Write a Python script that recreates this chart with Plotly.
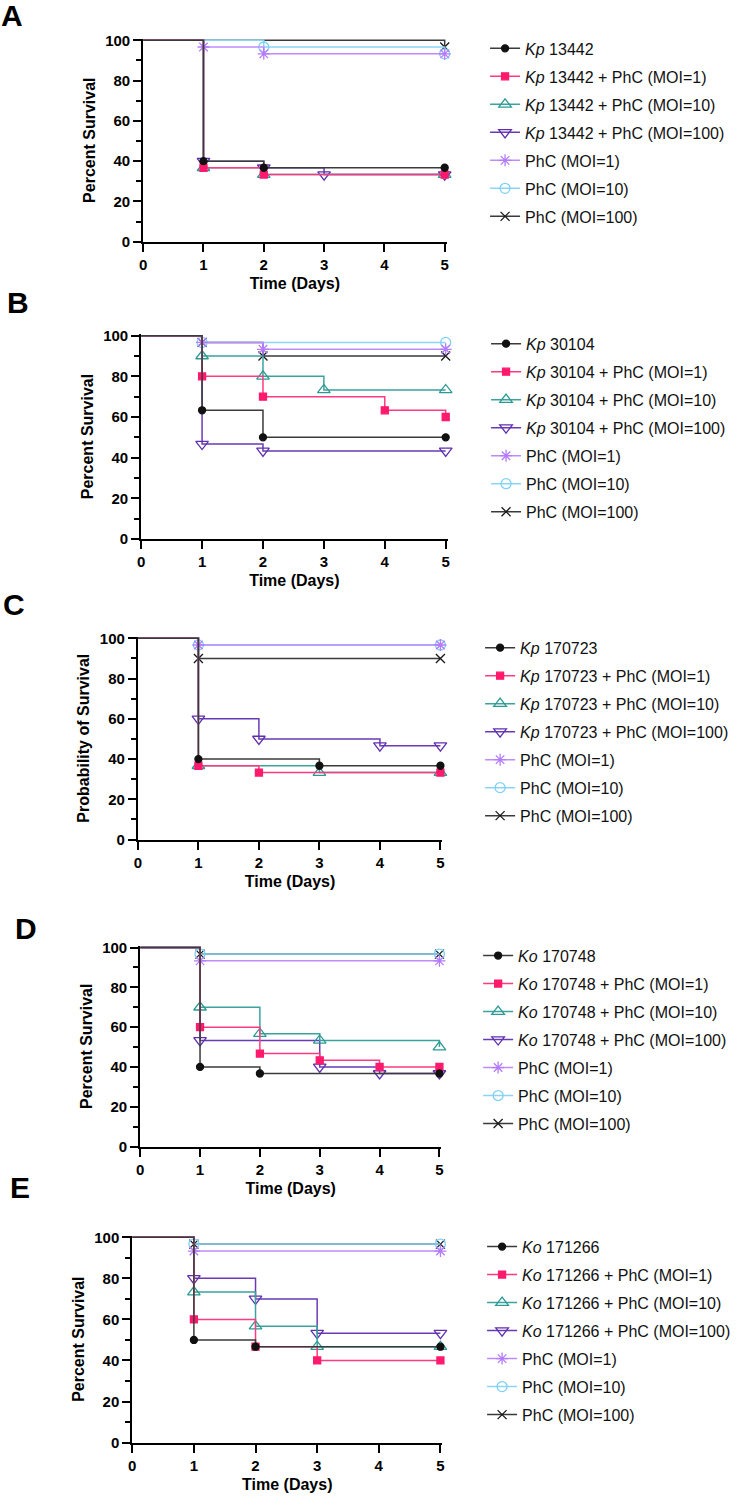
import plotly.graph_objects as go

W, H = 739, 1506

# ---------------- data ----------------
panel_letters = ["A", "B", "C", "D", "E"]
species = ["Kp", "Kp", "Kp", "Ko", "Ko"]
strain_ids = ["13442", "30104", "170723", "170748", "171266"]
y_titles = ["Percent Survival", "Percent Survival", "Probability of Survival",
            "Percent Survival", "Percent Survival"]
x_title = "Time (Days)"
x_ticks = [0, 1, 2, 3, 4, 5]
y_ticks = [0, 20, 40, 60, 80, 100]
combo_suffixes = ["", " + PhC (MOI=1)", " + PhC (MOI=10)", " + PhC (MOI=100)"]
phage_labels = ["PhC (MOI=1)", "PhC (MOI=10)", "PhC (MOI=100)"]

# order: strain, +MOI1, +MOI10, +MOI100, PhC MOI1, PhC MOI10, PhC MOI100
A_days = [[0, 1, 2, 5], [0, 1, 2, 5], [0, 1, 2, 5], [0, 1, 2, 3, 5],
          [0, 1, 2, 5], [0, 2, 5], [0, 5]]
A_surv = [[100, 40, 36.7, 36.7], [100, 36.7, 33.3, 33.3], [100, 36.7, 33.3, 33.3],
          [100, 40, 36.7, 33.3, 33.3], [100, 96.7, 93.3, 93.3], [100, 96.7, 93.3],
          [100, 96.7]]

B_days = [[0, 1, 2, 5], [0, 1, 2, 4, 5], [0, 1, 2, 3, 5], [0, 1, 2, 5],
          [0, 1, 2, 5], [0, 1, 5], [0, 1, 2, 5]]
B_surv = [[100, 63.3, 50, 50], [100, 80, 70, 63.3, 60], [100, 90, 80, 73.3, 73.3],
          [100, 46.7, 43.3, 43.3], [100, 96.7, 93.3, 93.3], [100, 96.7, 96.7],
          [100, 96.7, 90, 90]]

C_days = [[0, 1, 3, 5], [0, 1, 2, 5], [0, 1, 3, 5], [0, 1, 2, 4, 5],
          [0, 1, 5], [0, 1, 5], [0, 1, 5]]
C_surv = [[100, 40, 36.7, 36.7], [100, 36.7, 33.3, 33.3], [100, 36.7, 33.3, 33.3],
          [100, 60, 50, 46.7, 46.7], [100, 96.7, 96.7], [100, 96.7, 96.7],
          [100, 90, 90]]

D_days = [[0, 1, 2, 5], [0, 1, 2, 3, 4, 5], [0, 1, 2, 3, 5], [0, 1, 3, 4, 5],
          [0, 1, 5], [0, 1, 5], [0, 1, 5]]
D_surv = [[100, 40, 36.7, 36.7], [100, 60, 46.7, 43.3, 40, 40],
          [100, 70, 56.7, 53.3, 50], [100, 53.3, 40, 36.7, 36.7],
          [100, 93.3, 93.3], [100, 96.7, 96.7], [100, 96.7, 96.7]]

E_days = [[0, 1, 2, 5], [0, 1, 2, 3, 5], [0, 1, 2, 3, 5], [0, 1, 2, 3, 5],
          [0, 1, 5], [0, 1, 5], [0, 1, 5]]
E_surv = [[100, 50, 46.7, 46.7], [100, 60, 46.7, 40, 40], [100, 73.3, 56.7, 46.7, 46.7],
          [100, 80, 70, 53.3, 53.3], [100, 93.3, 93.3], [100, 96.7, 96.7],
          [100, 96.7, 96.7]]

all_days = [A_days, B_days, C_days, D_days, E_days]
all_surv = [A_surv, B_surv, C_surv, D_surv, E_surv]

# ---------------- styles ----------------
FONT = "Arial, 'Liberation Sans', Helvetica, sans-serif"
colors = ["#111111", "#ff1a6e", "#2b9a94", "#5f2fae", "#b57bff", "#7fd0f5", "#1a1a1a"]
line_colors = ["#3a3a3a", "#ff3a80", "#3aa39d", "#6a3ab5", "#bf8cff", "#8ad5f7", "#3a3a3a"]
symbols = ["circle", "square", "triangle-up-open", "triangle-down-open",
           "asterisk-open", "circle-open", "x-thin-open"]
sizes = [7, 7, 11, 11, 10, 10, 9]

# pixel geometry: x of day0, x of day5, y of 100, y of 0
plot_px = [(140.3, 444.3, 33.7, 237.0), (138.3, 445.3, 332.0, 537.3),
           (135.0, 440.0, 637.7, 841.0), (137.3, 439.0, 950.0, 1151.0),
           (129.3, 440.0, 1242.7, 1450.0)]
letter_px = [(0, 0), (6, 290), (2, 595), (14, 922), (9, 1184)]
legend_px = [(525, 46.7), (526, 345), (520, 652), (518, 963), (522, 1257)]

XMAX, YMAX = 5.03, 100.8

fig = go.Figure()
layout = dict(width=W, height=H, margin=dict(l=0, r=0, t=0, b=0),
              paper_bgcolor="white", plot_bgcolor="white",
              font=dict(family=FONT, color="#000"), showlegend=True,
              annotations=[])

for p in range(5):
    xs = "" if p == 0 else str(p + 1)
    xa, ya = "x" + xs, "y" + xs
    leg = "legend" + xs
    x0, x5, y100, y0 = plot_px[p]
    dx = (x5 - x0) / 5.0
    dy = (y0 - y100) / 100.0
    xdom = [x0 / W, (x0 + dx * XMAX) / W]
    ydom = [1 - y0 / H, 1 - (y0 - dy * YMAX) / H]

    labels = [f"<i>{species[p]}</i> {strain_ids[p]}{s}" for s in combo_suffixes] + phage_labels

    # legend entries (in legend order)
    for i in range(7):
        fig.add_trace(go.Scatter(
            x=[None], y=[None], mode="lines+markers", name=labels[i],
            xaxis=xa, yaxis=ya, legend=leg, legendgroup=f"{p}-{i}",
            line=dict(color=line_colors[i], width=1.5),
            marker=dict(symbol=symbols[i], size=sizes[i], color=colors[i],
                        line=dict(color=colors[i], width=1.3)),
            hoverinfo="skip"))
    # data: later series drawn underneath earlier ones
    for i in reversed(range(7)):
        d, s = all_days[p][i], all_surv[p][i]
        fig.add_trace(go.Scatter(
            x=d, y=s, mode="lines", line=dict(color=line_colors[i], width=1.5, shape="hv"),
            xaxis=xa, yaxis=ya, showlegend=False, legendgroup=f"{p}-{i}", hoverinfo="skip"))
        fig.add_trace(go.Scatter(
            x=d[1:], y=s[1:], mode="markers", cliponaxis=False,
            marker=dict(symbol=symbols[i], size=sizes[i], color=colors[i],
                        line=dict(color=colors[i], width=1.3)),
            xaxis=xa, yaxis=ya, showlegend=False, legendgroup=f"{p}-{i}", hoverinfo="skip"))

    layout["xaxis" + xs] = dict(
        domain=xdom, range=[0, XMAX], anchor=ya, tickvals=x_ticks,
        ticks="outside", ticklen=8, tickwidth=2, tickcolor="#000",
        showline=True, linewidth=2, linecolor="#000", showgrid=False, zeroline=False,
        tickfont=dict(size=15, weight="bold", family=FONT, color="#000"),
        title=dict(text=x_title, font=dict(size=16, weight="bold", family=FONT, color="#000"),
                   standoff=6))
    layout["yaxis" + xs] = dict(
        domain=ydom, range=[0, YMAX], anchor=xa, tickvals=y_ticks,
        ticks="outside", ticklen=8, tickwidth=2, tickcolor="#000",
        minor=dict(dtick=10, tick0=0, ticks="outside", ticklen=5, tickwidth=2, tickcolor="#000"),
        showline=True, linewidth=2, linecolor="#000", showgrid=False, zeroline=False,
        tickfont=dict(size=15, weight="bold", family=FONT, color="#000"),
        title=dict(text=y_titles[p], font=dict(size=16, weight="bold", family=FONT, color="#000"),
                   standoff=6))
    lx, ly = legend_px[p]
    layout[leg] = dict(x=(lx - 40) / W, xanchor="left", y=1 - (ly - 22) / H, yanchor="top",
                       bgcolor="rgba(0,0,0,0)", borderwidth=0, tracegroupgap=4.2,
                       font=dict(size=16, family=FONT, color="#111"), itemwidth=30)
    lpx, lpy = letter_px[p]
    layout["annotations"].append(dict(
        text=f"<b>{panel_letters[p]}</b>", x=(lpx - 5) / W, y=1 - (lpy - 10) / H,
        xref="paper", yref="paper",
        xanchor="left", yanchor="top", showarrow=False,
        font=dict(size=30, family=FONT, color="#000")))

fig.update_layout(**layout)
fig.write_html("out.html", config={"displayModeBar": False},
               post_script="document.body.style.margin='0';")
